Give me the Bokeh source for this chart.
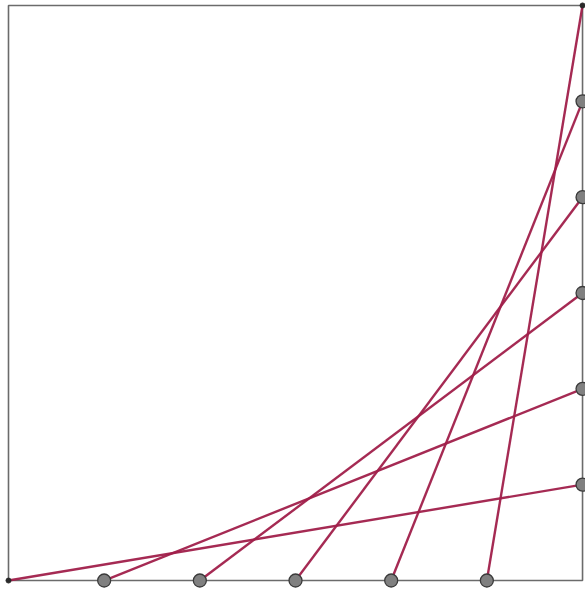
from bokeh.plotting import figure
from bokeh.models import Range1d
from bokeh.embed import file_html
from bokeh.resources import INLINE

# Data: string-art lines from bottom points to right-edge points
bottom_x = [0, 1, 2, 3, 4, 5]        # start points on bottom edge (y=0)
right_y = [1, 2, 3, 4, 5, 6]         # end points on right edge (x=6)
side = 6

marker_bottom_x = [1, 2, 3, 4, 5]
marker_right_y = [1, 2, 3, 4, 5]

p = figure(width=585, height=592, output_backend="svg", toolbar_location=None,
           x_range=Range1d(-0.0836, 6.031), y_range=Range1d(-0.125, 6.052),
           min_border=0)
p.axis.visible = False
p.grid.visible = False
p.outline_line_color = None
p.background_fill_color = "white"

# square frame
p.line([0, side, side, 0, 0], [0, 0, side, side, 0], line_color="#6b6b6b", line_width=1.6)

# lines
for bx, ry in zip(bottom_x, right_y):
    p.line([bx, side], [0, ry], line_color="#a01f4a", line_width=2.4, line_alpha=0.95)

# markers
p.scatter(marker_bottom_x, [0] * len(marker_bottom_x), size=13, fill_color="#808080",
          line_color="#3a3a3a", line_width=1.3)
p.scatter([side] * len(marker_right_y), marker_right_y, size=13, fill_color="#808080",
          line_color="#3a3a3a", line_width=1.3)
p.scatter([0, side], [0, side], size=5, fill_color="#2a2a2a", line_color="#2a2a2a")

open("out.html", "w").write(file_html(p, INLINE))
